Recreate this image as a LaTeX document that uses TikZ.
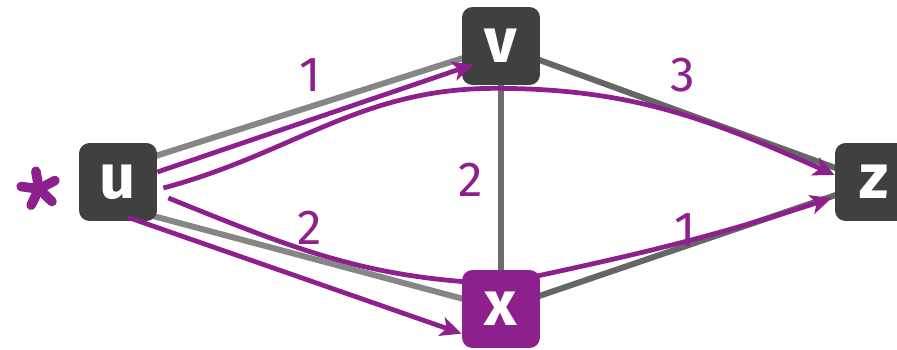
\documentclass[tikz,border=0pt]{standalone}
\usepackage{fontspec}
\setmainfont{Fira Sans}
\usetikzlibrary{arrows.meta,backgrounds}
\definecolor{plum}{RGB}{142,32,142}
\definecolor{box}{RGB}{64,64,64}

\begin{document}
\begin{tikzpicture}[x=0.02cm, y=0.02cm,
    vert/.style={rounded corners=6pt, minimum size=1.56cm, inner sep=0pt,
      fill=box, text=white, font=\fontsize{36}{36}\selectfont\bfseries},
    wt/.style={text=plum, font=\fontsize{28}{28}\selectfont},
    gline/.style={line width=3.4pt, draw=gray!95},
    route/.style={line width=2.7pt, draw=plum,
      -{Stealth[length=12pt, width=11pt, inset=3pt]}}]
  \useasboundingbox (0,0) rectangle (897,-349);

  \node[vert] (u) at (118,-182) {u};
  \node[vert] (v) at (501,-46) {v};
  \node[vert, fill=plum] (x) at (501,-309) {x};
  \node[vert] (z) at (874,-182) {z};

  % edges behind the boxes
  \begin{scope}[on background layer]
    \draw[gline] ([yshift=8]u.center) -- (v.center);
    \draw[gline] ([yshift=-14]u.center) -- (x.center);
    \draw[gline, draw=gray!80!black] (v.center) -- (z.center);
    \draw[gline, draw=gray!80!black] (x.center) -- (z.center);
    \draw[gline, draw=gray!85!black] (v) -- (x);
  \end{scope}

  % shortest paths from u
  \draw[route] ([shift={(0,10)}]u.east) -- ([shift={(12,21)}]v.south west);
  \draw[route] ([shift={(6,-6)}]u.east) to[out=15, in=180] ([shift={(-6,-3)}]v.south)
    to[out=0, in=156] ([yshift=4]z.west);
  \draw[route] ([shift={(11,-16)}]u.east) to[out=-22, in=178] ([yshift=-8]x.north)
    to[out=12, in=198] ([shift={(-3,-16)}]z.west);
  \draw[route] ([shift={(10,4)}]u.south) -- ([yshift=-14]x.west);

  % source mark
  \coordinate (src) at (39,-189);
  \foreach \a in {100,172,244,316,28}
    \draw[plum, line width=5.5pt, line cap=round] (src) -- ++(\a:18);

  \node[wt] (uv) at (310,-75) {1};
  \node[wt] (vz) at (683,-75) {3};
  \node[wt] (vx) at (471,-180) {2};
  \node[wt] (ux) at (310,-228) {2};
  \node[wt] (xz) at (685,-230) {1};
\end{tikzpicture}
\end{document}
